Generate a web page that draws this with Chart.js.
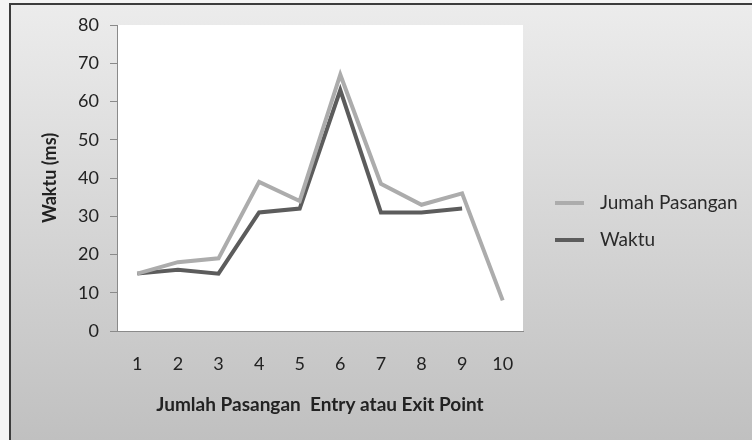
<!DOCTYPE html>
<html>
<head>
<meta charset="utf-8">
<script src="https://cdn.jsdelivr.net/npm/chart.js@4.4.1/dist/chart.umd.min.js"></script>
<style>
  html, body { margin: 0; padding: 0; background: #ffffff; }
  #wrap { width: 752px; height: 440px; position: relative; }
</style>
</head>
<body>
<div id="wrap"><canvas id="c" width="752" height="440"></canvas></div>
<script>
// Categories: number of entry/exit point pairs
const categories = ['1', '2', '3', '4', '5', '6', '7', '8', '9', '10'];
// Series values
const jumahPasangan = [15, 18, 19, 39, 34, 67, 38.5, 33, 36, 8];
const waktu = [15, 16, 15, 31, 32, 63, 31, 31, 32, null];
// Y axis ticks
const yTicks = [0, 10, 20, 30, 40, 50, 60, 70, 80];

const FONT = 'Lato, "Open Sans", sans-serif';

// Panel background, plot area fill and legend
const panelPlugin = {
  id: 'panel',
  beforeDraw(chart) {
    const ctx = chart.ctx;
    const W = chart.width, H = chart.height;
    ctx.save();
    ctx.fillStyle = '#f4f4f4';
    ctx.fillRect(0, 0, W, H);
    const g = ctx.createLinearGradient(0, 4, 0, H);
    g.addColorStop(0, '#ececec');
    g.addColorStop(1, '#c0c0c0');
    ctx.fillStyle = g;
    ctx.fillRect(10, 4, W - 10, H - 4);
    ctx.strokeStyle = '#3c3c3c';
    ctx.lineWidth = 2;
    ctx.strokeRect(10, 4, W + 10, H + 10);
    const a = chart.chartArea;
    ctx.fillStyle = '#ffffff';
    ctx.fillRect(a.left, a.top, a.right - a.left, a.bottom - a.top);
    ctx.restore();
  },
  afterDraw(chart) {
    const ctx = chart.ctx;
    ctx.save();
    const ys = [203, 240];
    chart.data.datasets.forEach((ds, i) => {
      const y = ys[i];
      ctx.strokeStyle = ds.borderColor;
      ctx.lineWidth = 4;
      ctx.beginPath();
      ctx.moveTo(555, y);
      ctx.lineTo(584, y);
      ctx.stroke();
      ctx.fillStyle = '#2a2a2a';
      ctx.font = '19px ' + FONT;
      ctx.textBaseline = 'middle';
      ctx.textAlign = 'left';
      ctx.fillText(ds.label, 600, y);
    });
    ctx.restore();
  }
};

new Chart(document.getElementById('c'), {
  type: 'line',
  data: {
    labels: categories,
    datasets: [
      {
        label: 'Jumah Pasangan',
        data: jumahPasangan,
        borderColor: '#acacac',
        borderWidth: 4,
        pointRadius: 0,
        tension: 0,
        spanGaps: false
      },
      {
        label: 'Waktu',
        data: waktu,
        borderColor: '#5c5c5c',
        borderWidth: 4,
        pointRadius: 0,
        tension: 0,
        spanGaps: false
      }
    ]
  },
  options: {
    responsive: false,
    animation: false,
    devicePixelRatio: 1,
    layout: { padding: { left: 0, right: 229, top: 25, bottom: 0 } },
    plugins: {
      legend: { display: false },
      tooltip: { enabled: false }
    },
    scales: {
      x: {
        offset: true,
        grid: { display: false, drawTicks: false },
        border: { display: true, color: '#8a8a8a', width: 1 },
        ticks: {
          color: '#222222',
          font: { family: FONT, size: 18 },
          padding: 22,
          maxRotation: 0
        },
        title: {
          display: true,
          text: 'Jumlah Pasangan  Entry atau Exit Point',
          color: '#222222',
          font: { family: FONT, size: 19, weight: 'bold' },
          padding: { top: 24, bottom: 24 }
        },
        afterFit(scale) { scale.height = 109; }
      },
      y: {
        min: 0,
        max: 80,
        afterBuildTicks(scale) { scale.ticks = yTicks.map(v => ({ value: v })); },
        grid: {
          display: true,
          drawOnChartArea: false,
          drawTicks: true,
          tickLength: 7,
          color: '#8a8a8a'
        },
        border: { display: true, color: '#8a8a8a', width: 1 },
        ticks: {
          color: '#222222',
          font: { family: FONT, size: 18 },
          padding: 11
        },
        title: {
          display: true,
          text: 'Waktu (ms)',
          color: '#222222',
          font: { family: FONT, size: 18, weight: 'bold' },
          padding: { top: 39, bottom: 39 }
        },
        afterFit(scale) { scale.width = 117; }
      }
    }
  },
  plugins: [panelPlugin]
});
</script>
</body>
</html>
